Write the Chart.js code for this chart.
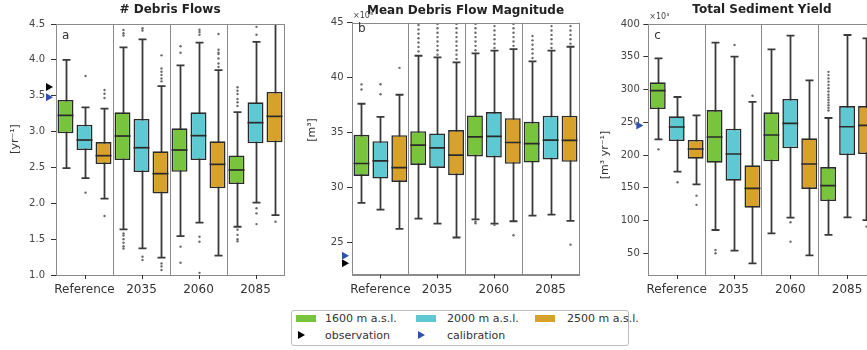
<!DOCTYPE html>
<html><head><meta charset="utf-8">
<script src="https://cdn.jsdelivr.net/npm/chart.js@4.4.1/dist/chart.umd.min.js"></script>
<style>
html,body{margin:0;padding:0;background:#fff;}
#wrap{position:relative;width:867px;height:350px;overflow:hidden;font-family:'DejaVu Sans',sans-serif;}
canvas{position:absolute;top:0;}
#legend{position:absolute;left:291px;top:310px;width:338px;height:36px;border:1px solid #bdbdbd;border-radius:3px;box-sizing:border-box;}
.li{position:absolute;font-size:11px;color:#333;line-height:13px;white-space:nowrap;}
.patch{position:absolute;width:20px;height:7px;}
.tri{position:absolute;width:0;height:0;border-top:4px solid transparent;border-bottom:4px solid transparent;border-left:7px solid #000;}
</style></head>
<body>
<div id="wrap">
  <canvas id="pa" width="290" height="300" style="left:0px"></canvas>
  <canvas id="pb" width="295" height="300" style="left:290px"></canvas>
  <canvas id="pc" width="300" height="300" style="left:580px"></canvas>
  <div id="legend"></div>
</div>
<script>
// ---------- data ----------
const categories = ['Reference', '2035', '2060', '2085'];
const seriesNames = ['1600 m a.s.l.', '2000 m a.s.l.', '2500 m a.s.l.'];
const seriesColors = ['#78c43c', '#5fc9d3', '#d8a12a'];
const markerNames = ['observation', 'calibration'];
const markerColors = ['#000000', '#3050b0'];

// Panel a: # Debris Flows [yr^-1]  (rows: 1600, 2000, 2500; columns: categories)
const flowsLow  = [[2.49, 1.636, 1.543, 1.673], [2.35, 1.371, 1.729, 2.008], [2.064, 1.241, 1.269, 1.836]];
const flowsQ1   = [[2.975, 2.603, 2.44, 2.269], [2.743, 2.436, 2.603, 2.836], [2.547, 2.138, 2.208, 2.85]];
const flowsMed  = [[3.226, 2.938, 2.743, 2.464], [2.882, 2.775, 2.943, 3.124], [2.664, 2.413, 2.543, 3.212]];
const flowsQ3   = [[3.44, 3.268, 3.045, 2.668], [3.096, 3.175, 3.268, 3.408], [2.854, 2.724, 2.864, 3.552]];
const flowsHigh = [[4.0, 4.175, 3.924, 3.27], [3.338, 4.286, 4.24, 4.25], [3.319, 3.635, 3.858, 4.7]];
const flowsOut  = [
  [[], [4.416, 4.37, 4.34, 1.58, 1.55, 1.5, 1.45, 1.4, 1.37], [4.19, 4.1, 1.395, 1.17], [3.617, 3.57, 3.524, 3.454, 3.408, 3.357, 1.63, 1.56, 1.5, 1.47]],
  [[3.775, 2.148], [4.44, 4.41, 1.255, 1.21], [4.42, 4.39, 4.35, 1.534, 1.464, 1.03], [4.46, 4.35, 1.93, 1.86, 1.71]],
  [[3.58, 3.528, 3.468, 1.822], [4.063, 3.88, 3.835, 3.79, 3.74, 3.70, 1.16, 1.12, 1.07], [4.36, 4.14, 4.1, 4.08, 4.02, 3.95, 3.9], [1.743]]
];
const flowsMarkers = [3.62, 3.48]; // observation, calibration
const flowsTicks = [1.0, 1.5, 2.0, 2.5, 3.0, 3.5, 4.0, 4.5];

// Panel b: Mean Debris Flow Magnitude [m^3] (x10^3)
const magLow  = [[28.6, 27.17, 27.11, 27.45], [27.99, 26.71, 26.72, 27.54], [26.23, 25.45, 26.93, 26.96]];
const magQ1   = [[31.06, 32.06, 32.83, 32.28], [30.82, 31.79, 32.74, 32.56], [30.51, 31.13, 32.16, 32.34]];
const magMed  = [[32.19, 33.86, 34.62, 34.0], [32.43, 33.61, 34.65, 34.32], [31.82, 32.95, 34.1, 34.29]];
const magQ3   = [[34.8, 35.13, 36.57, 35.98], [34.22, 34.92, 36.87, 36.54], [34.77, 35.23, 36.32, 36.54]];
const magHigh = [[37.63, 42.0, 42.22, 41.49], [36.44, 41.85, 42.46, 42.46], [38.45, 41.4, 42.61, 42.82]];
const magOut  = [
  [[38.93, 39.39], [42.4, 42.8, 43.2, 43.6, 44.0, 44.4, 44.8], [26.9, 26.75, 42.5, 42.9, 43.3, 43.7, 44.1, 44.5, 44.9], [41.8, 42.2, 42.6, 43.0, 43.4, 43.8]],
  [[38.5, 39.4], [42.1, 42.5, 42.9, 43.3, 43.7, 44.1, 44.5, 44.9], [26.6, 42.7, 43.1, 43.5, 43.9, 44.3, 44.7], [42.7, 43.1, 43.5, 43.9, 44.3, 44.7]],
  [[40.9], [41.7, 42.1, 42.5, 42.9, 43.3, 43.7, 44.1, 44.5, 44.9], [25.66, 42.9, 43.3, 43.7, 44.1, 44.5, 44.9], [24.8, 43.1, 43.5, 43.9, 44.3, 44.7]]
];
const magMarkers = [23.1, 23.8];
const magTicks = [25, 30, 35, 40, 45];

// Panel c: Total Sediment Yield [m^3 yr^-1] (x10^3)
const sedLow  = [[224, 85.6, 80.5, 78], [174.6, 54, 104.4, 104.9], [155.3, 34.7, 46.9, 100.8]];
const sedQ1   = [[270.3, 188.4, 190.4, 129.8], [221.4, 160.9, 210.2, 200], [194.4, 119.7, 148.2, 201.6]];
const sedMed  = [[298.2, 227.5, 230.6, 153.3], [242.8, 201.6, 248.4, 243.2], [209.2, 149.2, 186.3, 245.3]];
const sedQ3   = [[311, 268.7, 265.2, 181.7], [259.1, 240.2, 285.5, 274.8], [223, 184.3, 225.5, 274.8]];
const sedHigh = [[347.6, 371.5, 361.3, 256.5], [288.6, 350.1, 382.2, 383.2], [260.6, 281, 314, 378.1]];
const sedOut  = [
  [[208.7], [55, 50], [], [268, 272, 276, 280, 284, 288, 292, 297, 302, 307, 312, 317, 322, 327]],
  [[158.4], [368], [97.3, 67.8], []],
  [[138, 124], [290.6], [], [90.8]]
];
const sedMarkers = [null, 245];
const sedTicks = [50, 100, 150, 200, 250, 300, 350, 400];

// ---------- drawing ----------
Chart.defaults.font.family = "'DejaVu Sans', sans-serif";
const EDGE = '#2a2a2a', WHISK = '#3a3a3a', FRAME = '#8a8a8a';

const boxPlugin = {
  id: 'boxStats',
  beforeDatasetsDraw(chart, args, o) {
    const {ctx, chartArea: ca, scales: {y}} = chart;
    ctx.save();
    ctx.beginPath(); ctx.rect(ca.left, ca.top, ca.width, ca.height); ctx.clip();
    ctx.strokeStyle = WHISK; ctx.lineWidth = 1.8;
    o.low.forEach((row, i) => {
      const meta = chart.getDatasetMeta(i);
      row.forEach((lo, j) => {
        const b = meta.data[j];
        const x = Math.round(b.x) + 0.5, hw = b.width / 4;
        const yl = y.getPixelForValue(lo), yh = y.getPixelForValue(o.high[i][j]);
        ctx.beginPath();
        ctx.moveTo(x, yl); ctx.lineTo(x, yh);
        ctx.moveTo(x - hw, yl); ctx.lineTo(x + hw, yl);
        ctx.moveTo(x - hw, yh); ctx.lineTo(x + hw, yh);
        ctx.stroke();
      });
    });
    ctx.restore();
  },
  afterDatasetsDraw(chart, args, o) {
    const {ctx, chartArea: ca, scales: {y}} = chart;
    ctx.save();
    ctx.beginPath(); ctx.rect(ca.left, ca.top, ca.width, ca.height); ctx.clip();
    ctx.strokeStyle = EDGE; ctx.lineWidth = 1.7;
    o.med.forEach((row, i) => {
      const meta = chart.getDatasetMeta(i);
      row.forEach((m, j) => {
        const b = meta.data[j];
        const ym = y.getPixelForValue(m);
        ctx.beginPath(); ctx.moveTo(b.x - b.width / 2, ym); ctx.lineTo(b.x + b.width / 2, ym); ctx.stroke();
        ctx.fillStyle = '#6a6a6a';
        o.out[i][j].forEach(v => {
          ctx.beginPath(); ctx.arc(Math.round(b.x) + 0.5, y.getPixelForValue(v), 1.2, 0, Math.PI * 2); ctx.fill();
        });
      });
    });
    ctx.restore();
  },
  afterDraw(chart, args, o) {
    const {ctx, chartArea: ca, scales: {x, y}} = chart;
    ctx.save();
    // frame
    ctx.strokeStyle = FRAME; ctx.lineWidth = 1;
    ctx.strokeRect(Math.round(ca.left) + 0.5, Math.round(ca.top) + 0.5, Math.round(ca.width), Math.round(ca.height));
    // x tick marks at category centres
    ctx.strokeStyle = '#333'; ctx.lineWidth = 1;
    categories.forEach((c, j) => {
      const px = Math.round(x.getPixelForValue(j)) + 0.5;
      ctx.beginPath(); ctx.moveTo(px, ca.bottom); ctx.lineTo(px, ca.bottom + 4); ctx.stroke();
    });
    // observation / calibration markers
    o.markers.forEach((v, k) => {
      if (v === null) return;
      const py = y.getPixelForValue(v), tip = ca.left - o.markGap;
      ctx.fillStyle = markerColors[k];
      ctx.beginPath(); ctx.moveTo(tip - 7, py - 4); ctx.lineTo(tip, py); ctx.lineTo(tip - 7, py + 4); ctx.closePath(); ctx.fill();
    });
    // panel letter
    ctx.fillStyle = '#333'; ctx.font = "12px 'DejaVu Sans'"; ctx.textBaseline = 'alphabetic'; ctx.textAlign = 'left';
    ctx.fillText(o.letter, ca.left + 6, o.letterY);
    // multiplier
    if (o.mult) {
      ctx.fillStyle = '#444'; ctx.font = "8px 'DejaVu Sans'";
      ctx.fillText(o.mult, ca.left + 1, o.multY);
    }
    // y label
    ctx.fillStyle = '#333'; ctx.font = "11px 'DejaVu Sans'"; ctx.textAlign = 'center'; ctx.textBaseline = 'middle';
    ctx.translate(o.yLabelX, o.yLabelY); ctx.rotate(-Math.PI / 2);
    ctx.fillText(o.yLabel, 0, 0);
    ctx.restore();
  }
};

function makePanel(id, p) {
  new Chart(document.getElementById(id), {
    type: 'bar',
    data: {
      labels: categories,
      datasets: seriesNames.map((n, i) => ({
        label: n,
        data: categories.map((c, j) => [p.q1[i][j], p.q3[i][j]]),
        backgroundColor: seriesColors[i],
        borderColor: EDGE, borderWidth: 1.6, borderSkipped: false,
        categoryPercentage: 1.0, barPercentage: 0.84
      }))
    },
    options: {
      responsive: false, animation: false, events: [],
      layout: {padding: {left: 0, right: p.padRight, top: 0, bottom: 0}},
      plugins: {
        legend: {display: false}, tooltip: {enabled: false},
        title: {display: true, text: p.title, fullSize: false, color: '#222',
          font: {size: 12, weight: 'bold'}, padding: {top: p.tPadTop, bottom: p.tPadBot}},
        boxStats: {low: p.low, high: p.high, med: p.med, out: p.out, markers: p.markers, markGap: p.markGap,
          letter: p.letter, letterY: p.letterY, mult: p.mult, multY: p.multY,
          yLabel: p.yLabel, yLabelX: p.yLabelX, yLabelY: p.yLabelY}
      },
      scales: {
        x: {
          offset: true,
          grid: {offset: true, color: FRAME, lineWidth: 1, drawTicks: false},
          border: {display: true, color: FRAME},
          ticks: {color: '#333', font: {size: 12}, padding: 8, maxRotation: 0, autoSkip: false},
          afterFit: s => { s.height = p.xH; }
        },
        y: {
          min: p.min, max: p.max,
          afterBuildTicks: s => { s.ticks = p.ticks.map(v => ({value: v})); },
          ticks: {color: '#444', font: {size: 10}, padding: p.tickPad, autoSkip: false,
            callback: v => p.dec ? Number(v).toFixed(p.dec) : String(v)},
          grid: {drawOnChartArea: false, drawTicks: true, tickLength: 5, color: '#333'},
          border: {display: true, color: FRAME},
          afterFit: s => { s.width = p.yW; }
        }
      }
    },
    plugins: [boxPlugin]
  });
}

makePanel('pa', {title: '# Debris Flows', q1: flowsQ1, q3: flowsQ3, low: flowsLow, high: flowsHigh, med: flowsMed, out: flowsOut,
  markers: flowsMarkers, markGap: 3, min: 1.0, max: 4.5, ticks: flowsTicks, dec: 1, tickPad: 6, yW: 56, xH: 25, padRight: 6,
  tPadTop: 2.8, tPadBot: 6.8, letter: 'a', letterY: 39, mult: '', multY: 0, yLabel: '[yr⁻¹]', yLabelX: 15, yLabelY: 139});
makePanel('pb', {title: 'Mean Debris Flow Magnitude', q1: magQ1, q3: magQ3, low: magLow, high: magHigh, med: magMed, out: magOut,
  markers: magMarkers, markGap: 3, min: 22.1, max: 45, ticks: magTicks, dec: 0, tickPad: 3.5, yW: 62, xH: 25.7, padRight: 6,
  tPadTop: 3.8, tPadBot: 4.6, letter: 'b', letterY: 32, mult: '×10³', multY: 18, yLabel: '[m³]', yLabelX: 22, yLabelY: 130});
makePanel('pc', {title: 'Total Sediment Yield', q1: sedQ1, q3: sedQ3, low: sedLow, high: sedHigh, med: sedMed, out: sedOut,
  markers: sedMarkers, markGap: 5, min: 16.9, max: 400, ticks: sedTicks, dec: 0, tickPad: 3.5, yW: 68.3, xH: 25, padRight: 4.5,
  tPadTop: 2.8, tPadBot: 6.8, letter: 'c', letterY: 39, mult: '×10³', multY: 19, yLabel: '[m³ yr⁻¹]', yLabelX: 25, yLabelY: 155});

// ---------- legend ----------
const leg = document.getElementById('legend');
const colX = [4, 124, 243], txtX = [33, 155, 275];
seriesNames.forEach((n, i) => {
  leg.insertAdjacentHTML('beforeend',
    `<div class="patch" style="left:${colX[i]}px;top:4px;background:${seriesColors[i]}"></div>` +
    `<div class="li" style="left:${txtX[i]}px;top:1px">${n}</div>`);
});
markerNames.forEach((n, k) => {
  leg.insertAdjacentHTML('beforeend',
    `<div class="tri" style="left:${colX[k] + 2}px;top:20px;border-left-color:${markerColors[k]}"></div>` +
    `<div class="li" style="left:${txtX[k]}px;top:17.5px">${n}</div>`);
});
</script>
</body></html>
